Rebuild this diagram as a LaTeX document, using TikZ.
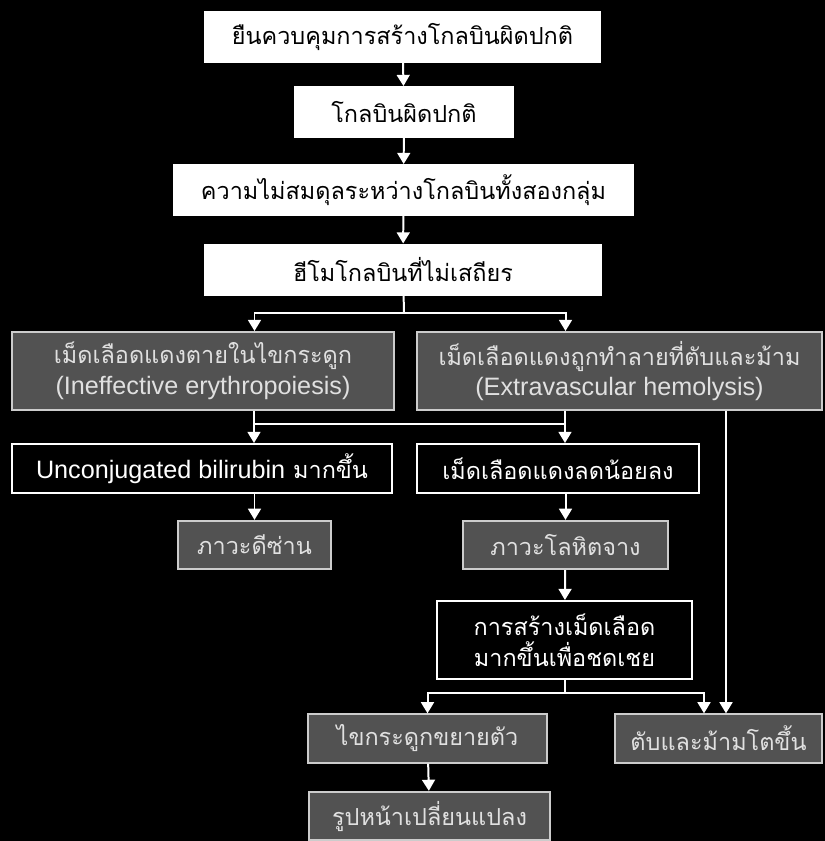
\documentclass[tikz,border=0pt]{standalone}
\usepackage{fontspec}
\setmainfont{Liberation Sans}
\newfontfamily\thaifont[Script=Thai]{Loma}
\usetikzlibrary{arrows.meta,calc}

\newcommand\latin[1]{{\rmfamily\fontsize{21.5}{26}\selectfont #1}}

\begin{document}
\begin{tikzpicture}[x=0.03cm,y=-0.03cm,>={Triangle[width=11pt,length=9.5pt]},
  line width=1.7pt,font=\fontsize{20}{26}\selectfont\thaifont,
  wbox/.style={draw=white,fill=white,text=black,inner sep=0pt,minimum height=1.5cm,align=center},
  bbox/.style={draw=white,fill=black,text=white,inner sep=0pt,minimum height=1.47cm,align=center},
  gbox/.style={draw=white!80!black,fill=black!68,text=white!88!black,inner sep=0pt,minimum height=1.45cm,align=center}]
\fill[black] (0,0) rectangle (825,841);
\useasboundingbox (0,0) rectangle (825,841);
\node[wbox,minimum width=11.85cm] (top) at (402.5,37) {ยืนควบคุมการสร้างโกลบินผิดปกติ};
\node[wbox,minimum width=6.54cm] (glob) at (404,112) {โกลบินผิดปกติ};
\node[wbox,minimum width=13.77cm] (imb) at (403.5,190) {ความไม่สมดุลระหว่างโกลบินทั้งสองกลุ่ม};
\node[wbox,minimum width=11.88cm] (unst) at (403,269.5) {ฮีโมโกลบินที่ไม่เสถียร};
\node[gbox,minimum width=11.46cm,minimum height=2.34cm] (ineff) at (203,371) {เม็ดเลือดแดงตายในไขกระดูก\\\latin{(Ineffective erythropoiesis)}};
\node[gbox,minimum width=12.15cm,minimum height=2.34cm] (extra) at (619.5,371) {เม็ดเลือดแดงถูกทำลายที่ตับและม้าม\\\latin{(Extravascular hemolysis)}};
\node[bbox,minimum width=11.4cm] (unconj) at (202,468.5) {\latin{Unconjugated bilirubin} มากขึ้น};
\node[bbox,minimum width=8.46cm] (rbc) at (558,468.5) {เม็ดเลือดแดงลดน้อยลง};
\node[gbox,minimum width=4.59cm] (jaund) at (254.5,545) {ภาวะดีซ่าน};
\node[gbox,minimum width=6.15cm] (anem) at (565.5,545) {ภาวะโลหิตจาง};
\node[bbox,minimum width=7.65cm,minimum height=2.34cm] (comp) at (564.5,640) {การสร้างเม็ดเลือด\\มากขึ้นเพื่อชดเชย};
\node[gbox,minimum width=7.17cm] (bone) at (427.5,738.5) {ไขกระดูกขยายตัว};
\node[gbox,minimum width=6.21cm] (liver) at (718.5,738.5) {ตับและม้ามโตขึ้น};
\node[gbox,minimum width=7.23cm] (face) at (429.5,816) {รูปหน้าเปลี่ยนแปลง};
\coordinate (s1) at (404,313);
\coordinate (m1) at (254,424);
\coordinate (m2) at (565,424);
\coordinate (s2) at (565,693);
\coordinate (v1) at (726,0);
\coordinate (v2) at (704,0);
\begin{scope}[white]
\draw[->] (top) -- (glob);
\draw[->] (glob) -- (imb);
\draw[->] (imb) -- (unst);
\draw (unst) -- (s1);
\draw[->] (s1) -| (ineff.north -| jaund.north);
\draw[->] (s1) -| (extra.north -| anem.north);
\draw (ineff.south -| m1) -- (m1) -- (m2);
\draw[->] (m1) -- (unconj.north -| m1);
\draw[->] (extra.south -| m2) -- (rbc.north -| m2);
\draw[->] (unconj.south -| jaund.north) -- (jaund);
\draw[->] (rbc.south -| anem.north) -- (anem);
\draw[->] (anem) -- (comp);
\draw (comp.south -| s2) -- (s2);
\draw[->] (s2) -| (bone.north);
\draw[->] (s2) -| (liver.north -| v2);
\draw[->] (extra.south -| v1) -- (liver.north -| v1);
\draw[->] (bone) -- (face);
\end{scope}
\end{tikzpicture}
\end{document}
